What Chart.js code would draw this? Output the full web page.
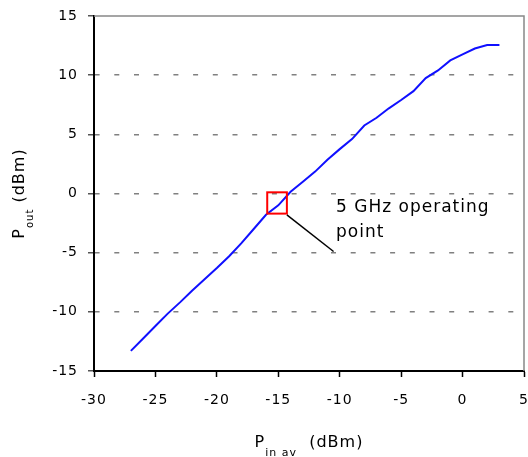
<!DOCTYPE html>
<html lang="en">
<head>
  <meta charset="UTF-8">
  <title>Pout vs Pin av</title>
  <style>
    body { margin: 0; background: #fff; }
    .wrap { position: relative; width: 528px; height: 457px; }
  </style>
</head>
<body>
  <div class="wrap"><canvas id="chart" width="528" height="457"></canvas></div>

  <script src="https://cdn.jsdelivr.net/npm/chart.js"></script>
  <script>
    // measured curve (dBm)
    const pinAv = [-27, -26, -25, -24, -23, -22, -21, -20, -19, -18, -17, -16, -15, -14, -13, -12, -11, -10, -9, -8, -7, -6, -5, -4, -3, -2, -1, 0, 1, 2, 3];
    const pout  = [-13.3, -12.25, -11.2, -10.15, -9.2, -8.2, -7.25, -6.3, -5.3, -4.2, -3.0, -1.8, -1.0, 0.15, 1.0, 1.85, 2.85, 3.75, 4.6, 5.75, 6.4, 7.2, 7.9, 8.65, 9.75, 10.4, 11.25, 11.75, 12.25, 12.55, 12.55];

    // operating point marker + label (data units)
    const markerX = [-15.9, -14.3];
    const markerY = [-1.7, 0.1];
    const leaderX = [-14.3, -10.5];
    const leaderY = [-1.8, -4.9];
    const labelLines = ['5 GHz operating', 'point'];
    const labelX = -10.3;
    const labelY = [-1.6, -3.7];

    const FONT = '"DejaVu Sans", sans-serif';

    const overlay = {
      id: 'overlay',
      beforeDraw(chart) { chart.ctx.letterSpacing = '1px'; },
      afterDatasetsDraw(chart) {
        const { ctx, chartArea: a, scales: { x, y } } = chart;
        ctx.save();
        // top + right frame
        ctx.strokeStyle = '#888';
        ctx.lineWidth = 1.5;
        ctx.beginPath();
        ctx.moveTo(a.left, a.top); ctx.lineTo(a.right, a.top); ctx.lineTo(a.right, a.bottom);
        ctx.stroke();
        // red box
        const x0 = x.getPixelForValue(markerX[0]), x1 = x.getPixelForValue(markerX[1]);
        const y0 = y.getPixelForValue(markerY[1]), y1 = y.getPixelForValue(markerY[0]);
        ctx.strokeStyle = '#ff0000';
        ctx.lineWidth = 2;
        ctx.strokeRect(x0, y0, x1 - x0, y1 - y0);
        // leader
        ctx.strokeStyle = '#000';
        ctx.lineWidth = 1.5;
        ctx.beginPath();
        ctx.moveTo(x.getPixelForValue(leaderX[0]), y.getPixelForValue(leaderY[0]));
        ctx.lineTo(x.getPixelForValue(leaderX[1]), y.getPixelForValue(leaderY[1]));
        ctx.stroke();
        // label
        ctx.fillStyle = '#000';
        ctx.font = '17px ' + FONT;
        ctx.textAlign = 'left';
        ctx.textBaseline = 'alphabetic';
        labelLines.forEach((t, i) => ctx.fillText(t, x.getPixelForValue(labelX), y.getPixelForValue(labelY[i])));
        ctx.restore();
      },
      afterDraw(chart) {
        const { ctx, chartArea: a } = chart;
        ctx.save();
        ctx.fillStyle = '#000';
        ctx.textBaseline = 'alphabetic';
        ctx.textAlign = 'left';
        // draws "P<sub>sub</sub>rest" centred at 0 on the current baseline
        const title = (sub, rest, subSize) => {
          ctx.font = '16px ' + FONT; const wP = ctx.measureText('P').width;
          const wR = ctx.measureText(rest).width;
          ctx.font = subSize + 'px ' + FONT; const wS = ctx.measureText(sub).width;
          let cx = -(wP + wS + wR) / 2;
          ctx.font = '16px ' + FONT; ctx.fillText('P', cx, 0); cx += wP;
          ctx.font = subSize + 'px ' + FONT; ctx.fillText(sub, cx, 8.5); cx += wS;
          ctx.font = '16px ' + FONT; ctx.fillText(rest, cx, 0);
        };
        ctx.save();
        ctx.translate((a.left + a.right) / 2, a.bottom + 76);
        title('in av', '  (dBm)', 11);
        ctx.restore();
        ctx.save();
        ctx.translate(24, (a.top + a.bottom) / 2);
        ctx.rotate(-Math.PI / 2);
        title('out', ' (dBm)', 10);
        ctx.restore();
        ctx.restore();
      }
    };

    new Chart(document.getElementById('chart'), {
      type: 'line',
      data: {
        datasets: [{
          data: pinAv.map((v, i) => ({ x: v, y: pout[i] })),
          borderColor: '#1010ff',
          borderWidth: 2,
          pointRadius: 0,
          tension: 0,
          fill: false
        }]
      },
      options: {
        responsive: false,
        animation: false,
        layout: { padding: { left: 0, right: 4, top: 16, bottom: 0 } },
        plugins: { legend: { display: false }, tooltip: { enabled: false } },
        scales: {
          x: {
            type: 'linear', min: -30, max: 5,
            ticks: { stepSize: 5, color: '#000', padding: 15, font: { family: FONT, size: 14 } },
            grid: { drawOnChartArea: false, drawTicks: true, tickLength: 6, tickColor: '#000', tickWidth: 1.5 },
            border: { color: '#000', width: 2 },
            afterFit(s) { s.height = 86; s.paddingLeft = 0; s.paddingRight = 0; }
          },
          y: {
            type: 'linear', min: -15, max: 15,
            ticks: { stepSize: 5, color: '#000', padding: 10, font: { family: FONT, size: 14 } },
            grid: {
              color: c => (c.tick && (c.tick.value === 15 || c.tick.value === -15)) ? 'rgba(0,0,0,0)' : '#808080',
              lineWidth: 1.5,
              tickLength: 6, tickColor: '#555', tickWidth: 1.5, tickBorderDash: []
            },
            border: { color: '#000', width: 2, dash: [5, 14.7], dashOffset: 0.4 },
            afterFit(s) { s.width = 94; s.paddingTop = 0; s.paddingBottom = 0; }
          }
        }
      },
      plugins: [overlay]
    });
  </script>
</body>
</html>
